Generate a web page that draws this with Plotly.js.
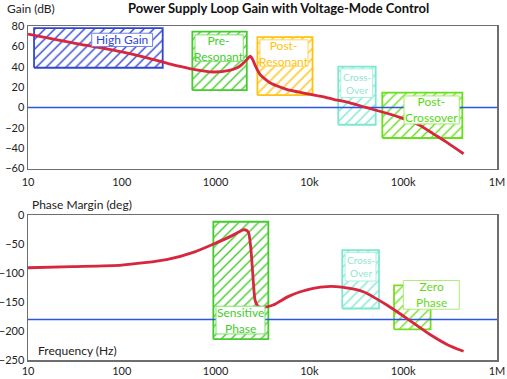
<!DOCTYPE html>
<html><head><meta charset="utf-8">
<script src="https://cdn.plot.ly/plotly-3.0.1.min.js"></script>
<style>html,body{margin:0;padding:0;background:#fff}#chart{width:507px;height:379px}</style>
</head><body><div id="chart"></div>
<script>
// ---- data ----
const gainFreq = [10, 30, 100, 200, 330, 530, 950, 1400, 1700, 1900, 2100, 2250, 2330, 2420, 2530, 2650, 2800, 3000, 3400, 3800, 4700, 5700, 8000, 10000, 13000, 18000, 27000, 40000, 60000, 92000, 150000, 210000, 300000, 440000];
const gainDb   = [72, 63.5, 54.5, 48, 42.5, 38.2, 34.8, 36.4, 39, 42, 46, 49, 50.4, 49, 45.5, 41, 36.5, 32, 27.5, 24.3, 20.5, 17.8, 14.8, 13, 11, 8, 4.5, 0, -4.5, -9.7, -17.5, -26, -35, -45.5];

const phaseFreq = [10, 30, 100, 300, 600, 1000, 1500, 1970, 2150, 2250, 2370, 2490, 2630, 2800, 3000, 3500, 4100, 6000, 8000, 11000, 15500, 22000, 37600, 67000, 109000, 193000, 300000, 440000];
const phaseDeg  = [-90.5, -88.5, -86, -76.5, -63, -48, -35, -25, -26, -30, -55, -101, -146, -156, -159, -158, -155, -140, -132, -126, -123, -124, -132, -155, -178, -206, -224, -235];

const xTickVals = [10, 100, 1000, 10000, 100000, 1000000];
const xTickText = ['10', '100', '1000', '10k', '100k', '1M'];

const gainRef = 0;      // dB reference line
const phaseRef = -180;  // deg reference line

// hatched regions
const gainRegionNames = ['High Gain', 'Pre-Resonant', 'Post-Resonant', 'Cross-Over', 'Post-Crossover'];
const gainRegionF0  = [11.6, 565, 2790, 20300, 59900];
const gainRegionF1  = [273, 2150, 10800, 50900, 427000];
const gainRegionLo  = [39, 17, 12, -17, -30];
const gainRegionHi  = [78, 74.5, 69, 40, 14.6];

const phaseRegionNames = ['Sensitive Phase', 'Cross-Over', 'Zero Phase'];
const phaseRegionF0 = [946, 22400, 79800];
const phaseRegionF1 = [3650, 55200, 196000];
const phaseRegionLo = [-214, -161, -197];
const phaseRegionHi = [-11, -60, -121];

// region labels
const gainLabelText = ['High Gain', 'Pre-<br>Resonant', 'Post-<br>Resonant', 'Cross-<br>Over', 'Post-<br>Crossover'];
const gainLabelF0 = [47.8, 603, 2970, 21600, 102000];
const gainLabelF1 = [213, 1972, 9660, 47300, 396000];
const gainLabelLo = [59.9, 45.3, 40.4, 9.7, -16.2];
const gainLabelHi = [72.9, 71.3, 66.4, 37.9, 11.3];

const phaseLabelText = ['Sensitive<br>Phase', 'Cross-<br>Over', 'Zero<br>Phase'];
const phaseLabelF0 = [1010, 24000, 100300];
const phaseLabelF1 = [3360, 51300, 396000];
const phaseLabelLo = [-205, -113.5, -162.2];
const phaseLabelHi = [-157, -63.9, -112.5];

const chartTitle = 'Power Supply Loop Gain with Voltage-Mode Control';

// ---- styles ----
const gainColors  = ['#2f45d6', '#44cc2c', '#ffc20e', '#7de8cf', '#66e01a'];
const gainLabelBorder = ['#6f80e6', '#7ee06a', '#ffd75a', '#a6f0de', '#a0ec6a'];
const gainTextColor = ['#2f45d6', '#44cc2c', '#ffc20e', '#8fe6d2', '#55d811'];
const gainFontSize = [12, 12, 12, 10, 12];
const phaseColors = ['#44cc2c', '#7de8cf', '#77dd22'];
const phaseLabelBorder = ['#7ee06a', '#a6f0de', '#aaea7a'];
const phaseTextColor = ['#44cc2c', '#8fe6d2', '#66d81a'];
const phaseFontSize = [12, 10, 12];
const FONT = 'Lato, "Open Sans", "Liberation Sans", sans-serif';

function rect(f0, f1, lo, hi) {
  return {x: [f0, f1, f1, f0, f0], y: [lo, lo, hi, hi, lo]};
}

const traces = [];
function addRegions(f0s, f1s, los, his, colors, xa, ya) {
  for (let i = 0; i < f0s.length; i++) {
    const r = rect(f0s[i], f1s[i], los[i], his[i]);
    traces.push({
      type: 'scatter', mode: 'lines', x: r.x, y: r.y, xaxis: xa, yaxis: ya,
      fill: 'toself', fillcolor: 'rgba(255,255,255,0)',
      fillpattern: {shape: '/', fgcolor: colors[i], bgcolor: 'rgba(255,255,255,0)', size: 7, solidity: 0.2},
      line: {color: colors[i], width: 1.8}, hoverinfo: 'skip'
    });
  }
}
addRegions(gainRegionF0, gainRegionF1, gainRegionLo, gainRegionHi, gainColors, 'x', 'y');
addRegions(phaseRegionF0, phaseRegionF1, phaseRegionLo, phaseRegionHi, phaseColors, 'x2', 'y2');

// reference lines
traces.push({type: 'scatter', mode: 'lines', x: [10, 1e6], y: [gainRef, gainRef], xaxis: 'x', yaxis: 'y', line: {color: '#2a55e5', width: 1.6}});
traces.push({type: 'scatter', mode: 'lines', x: [10, 1e6], y: [phaseRef, phaseRef], xaxis: 'x2', yaxis: 'y2', line: {color: '#2a55e5', width: 1.6}});

// curves
traces.push({type: 'scatter', mode: 'lines', x: gainFreq, y: gainDb, xaxis: 'x', yaxis: 'y', line: {color: '#d7263d', width: 2.8, shape: 'spline', smoothing: 0.6}});
traces.push({type: 'scatter', mode: 'lines', x: phaseFreq, y: phaseDeg, xaxis: 'x2', yaxis: 'y2', line: {color: '#d7263d', width: 2.8, shape: 'spline', smoothing: 0.6}});

// label boxes (white shapes above the traces) and their text
const shapes = [];
const annotations = [];
function addLabels(texts, f0s, f1s, los, his, borders, colors, sizes, xa, ya) {
  for (let i = 0; i < texts.length; i++) {
    shapes.push({type: 'rect', layer: 'above', xref: xa, yref: ya,
      x0: f0s[i], x1: f1s[i], y0: los[i], y1: his[i],
      fillcolor: '#ffffff', opacity: 1, line: {color: borders[i], width: 1}});
    annotations.push({
      xref: xa, yref: ya,
      x: (Math.log10(f0s[i]) + Math.log10(f1s[i])) / 2,
      y: (los[i] + his[i]) / 2,
      text: texts[i], showarrow: false,
      font: {family: FONT, size: sizes[i], color: colors[i]}
    });
  }
}
addLabels(gainLabelText, gainLabelF0, gainLabelF1, gainLabelLo, gainLabelHi, gainLabelBorder, gainTextColor, gainFontSize, 'x', 'y');
addLabels(phaseLabelText, phaseLabelF0, phaseLabelF1, phaseLabelLo, phaseLabelHi, phaseLabelBorder, phaseTextColor, phaseFontSize, 'x2', 'y2');

// chart title and axis titles as text
annotations.push({xref: 'paper', yref: 'paper', x: 0.534, xanchor: 'center', y: 1, yanchor: 'middle', yshift: 18,
  text: '<b>' + chartTitle + '</b>', showarrow: false, font: {family: FONT, size: 13, color: '#111'}});
annotations.push({xref: 'paper', yref: 'paper', x: -0.05, xanchor: 'left', y: 1, yanchor: 'middle', yshift: 18,
  text: 'Gain (dB)', showarrow: false, font: {family: FONT, size: 12, color: '#222'}});
annotations.push({xref: 'paper', yref: 'paper', x: 0.004, xanchor: 'left', y: 0.4330, yanchor: 'middle', yshift: 11,
  text: 'Phase Margin (deg)', showarrow: false, font: {family: FONT, size: 12, color: '#222'}});
annotations.push({xref: 'paper', yref: 'paper', x: 0.016, xanchor: 'left', y: 0, yanchor: 'middle', yshift: 10,
  text: 'Frequency (Hz)', showarrow: false, font: {family: FONT, size: 12, color: '#222'}});

const axisCommon = {
  type: 'log', range: [1, 6], tickvals: xTickVals, ticktext: xTickText,
  showgrid: false, zeroline: false, showline: true, mirror: true, linecolor: '#6e6e6e', linewidth: 1.5,
  ticks: '', tickfont: {family: FONT, size: 11, color: '#222'}
};

const layout = {
  width: 507, height: 379,
  margin: {l: 28, r: 10, t: 26, b: 19},
  paper_bgcolor: '#fff', plot_bgcolor: '#fff',
  showlegend: false,
  font: {family: FONT},
  xaxis: Object.assign({}, axisCommon, {anchor: 'y', ticklabelstandoff: 3}),
  yaxis: {domain: [0.5733, 1], range: [-60, 80], dtick: 20, showgrid: false, zeroline: false, showline: true, mirror: true,
    linecolor: '#6e6e6e', linewidth: 1.5, ticks: '', tickfont: {family: FONT, size: 11, color: '#222'}},
  xaxis2: Object.assign({}, axisCommon, {anchor: 'y2'}),
  yaxis2: {domain: [0, 0.4330], range: [-250, 0], dtick: 50, showgrid: false, zeroline: false, showline: true, mirror: true,
    linecolor: '#6e6e6e', linewidth: 1.5, ticks: '', tickfont: {family: FONT, size: 11, color: '#222'}},
  shapes: shapes,
  annotations: annotations
};

Plotly.newPlot('chart', traces, layout, {staticPlot: true, displayModeBar: false});
</script></body></html>
